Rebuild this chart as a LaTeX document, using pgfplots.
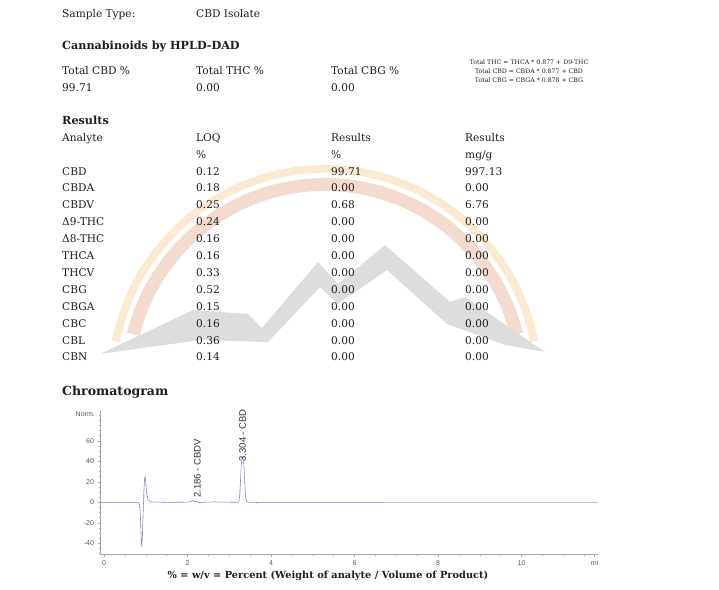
\documentclass[border=0pt]{standalone}
\usepackage{fontspec}
\setmainfont{DejaVu Serif}
\newfontfamily\arial{Liberation Sans}
\usepackage{pgfplots}
\pgfplotsset{compat=1.18}

\definecolor{trace}{RGB}{130,130,200}
\definecolor{tracelight}{RGB}{190,190,225}
\definecolor{paleband}{RGB}{250,234,210}
\definecolor{salmonband}{RGB}{243,220,207}
\definecolor{mount}{RGB}{221,221,221}
\definecolor{ink}{RGB}{30,30,30}

\newcommand{\txt}[3]{\node[anchor=base west, inner sep=0pt, text=ink,
  font=\fontsize{10.6}{12}\selectfont] at (#1,#2+4) {#3};}
\newcommand{\btxt}[3]{\node[anchor=base west, inner sep=0pt, text=ink,
  font=\bfseries\fontsize{11.2}{13}\selectfont] at (#1,#2+4) {#3};}

\begin{document}
\begin{tikzpicture}
\begin{scope}[x=1pt,y=-1pt]
  \path[use as bounding box] (0,0) rectangle (719,589);
  \fill[white] (0,0) rectangle (719,589);

  % watermark logo
  \fill[paleband] ({325+217*cos(-11)},{382+217*sin(-11)})
    arc[start angle=-11, end angle=-169, radius=217]
    -- ({325+209*cos(-169)},{382+209*sin(-169)})
    arc[start angle=-169, end angle=-11, radius=209] -- cycle;
  \fill[salmonband] ({325+204*cos(-14)},{382+204*sin(-14)})
    arc[start angle=-14, end angle=-166, radius=204]
    -- ({325+191*cos(-166)},{382+191*sin(-166)})
    arc[start angle=-166, end angle=-14, radius=191] -- cycle;
  \fill[mount] (100,354) -- (193,310) -- (248,314) -- (262,328) -- (318,262)
    -- (338,284) -- (385,245) -- (450,302) -- (465,297) -- (545,352)
    -- (505,345) -- (447,324) -- (387,270) -- (338,304) -- (320,287)
    -- (268,342) -- (200,340) -- cycle;

  % header
  \txt{62}{13}{Sample Type:}
  \txt{196}{13}{CBD Isolate}
  \btxt{62}{45}{Cannabinoids by HPLD-DAD}
  \txt{62}{70}{Total CBD \%}
  \txt{196}{70}{Total THC \%}
  \txt{331}{70}{Total CBG \%}
  \txt{62}{87}{99.71}
  \txt{196}{87}{0.00}
  \txt{331}{87}{0.00}
  \node[align=center, inner sep=0pt, text=ink, font=\fontsize{6.2}{9}\selectfont]
    at (529,71.5) {Total THC = THCA * 0.877 + D9-THC\\Total CBD = CBDA * 0.877 + CBD\\Total CBG = CBGA * 0.878 + CBG};

  % results table
  \btxt{62}{120}{Results}
  \txt{62}{137}{Analyte}
  \txt{196}{137}{LOQ}
  \txt{331}{137}{Results}
  \txt{465}{137}{Results}
  \txt{196}{154}{\%}
  \txt{331}{154}{\%}
  \txt{465}{154}{mg/g}
  \foreach \n/\l/\r/\m [count=\i from 0] in {CBD/0.12/99.71/997.13,
      CBDA/0.18/0.00/0.00, CBDV/0.25/0.68/6.76, Δ9-THC/0.24/0.00/0.00,
      Δ8-THC/0.16/0.00/0.00, THCA/0.16/0.00/0.00, THCV/0.33/0.00/0.00,
      CBG/0.52/0.00/0.00, CBGA/0.15/0.00/0.00, CBC/0.16/0.00/0.00,
      CBL/0.36/0.00/0.00, CBN/0.14/0.00/0.00}{
    \pgfmathsetmacro{\yy}{171+16.9*\i}
    \txt{62}{\yy}{\n}
    \txt{196}{\yy}{\l}
    \txt{331}{\yy}{\r}
    \txt{465}{\yy}{\m}
  }

  \node[anchor=base west, inner sep=0pt, text=ink,
    font=\bfseries\fontsize{12.5}{14}\selectfont] at (62,395) {Chromatogram};
  \node[anchor=east, inner sep=0pt, text=black!65,
    font=\arial\fontsize{7}{8}\selectfont] at (95,414) {Norm.};
  \node[inner sep=0pt, text=ink, font=\bfseries\fontsize{9.8}{11}\selectfont]
    at (328,576) {\% = w/v = Percent (Weight of analyte / Volume of Product)};
\end{scope}

\begin{axis}[
  at={(100pt,-554pt)}, anchor=south west,
  scale only axis, width=497.7pt, height=143pt,
  xmin=-0.096, xmax=11.825, ymin=-50.4, ymax=89,
  clip=false,
  axis lines=left,
  axis line style={-, draw=black!35, line width=0.5pt},
  xtick={0,2,4,6,8,10,11.75},
  xticklabels={0,2,4,6,8,10,mi},
  minor xtick={0.5,1,...,11.5},
  ytick={-40,-20,0,20,40,60},
  minor ytick={-50,-45,...,85},
  tick align=outside,
  major tick length=2.5pt, minor tick length=1.5pt,
  tick style={draw=black!35, line width=0.4pt},
  ticklabel style={font=\arial\fontsize{7}{8}\selectfont, text=black!65},
  /pgf/number format/assume math mode=true,
  xticklabel style={yshift=-0.5pt},
]
  \addplot[trace, line width=0.55pt] coordinates {
    (-0.09,0) (0.5,0) (0.82,0) (0.85,-2) (0.87,-12) (0.89,-35) (0.905,-43)
    (0.92,-32) (0.94,-8) (0.955,10) (0.97,22) (0.985,25) (1.0,20) (1.02,9)
    (1.05,3) (1.1,0.8) (1.2,0.2) (1.5,0) (2.0,0.1) (2.08,0.8) (2.12,1.6)
    (2.16,0.6) (2.2,1.0) (2.25,0.2) (2.28,-0.6) (2.32,0) (2.6,0.2) (2.66,0.6)
    (2.72,0.2) (3.2,0) (3.23,1) (3.25,6) (3.27,22) (3.29,38) (3.31,44)
    (3.33,44) (3.35,37) (3.37,20) (3.39,6) (3.41,1) (3.44,0.3) (3.5,0)
    (3.64,0) (3.66,-0.8) (3.68,0) (5.0,0) (6.7,0)};
  \addplot[tracelight, line width=0.5pt] coordinates {(6.7,0) (11.82,0)};
  \node[rotate=90, anchor=west, inner sep=0pt, text=black!80,
    font=\arial\fontsize{9.5}{10}\selectfont] at (axis cs:2.235,4.5) {2.186 - CBDV};
  \node[rotate=90, anchor=west, inner sep=0pt, text=black!80,
    font=\arial\fontsize{9.5}{10}\selectfont] at (axis cs:3.32,39.6) {3.304 - CBD};
\end{axis}
\end{tikzpicture}
\end{document}
